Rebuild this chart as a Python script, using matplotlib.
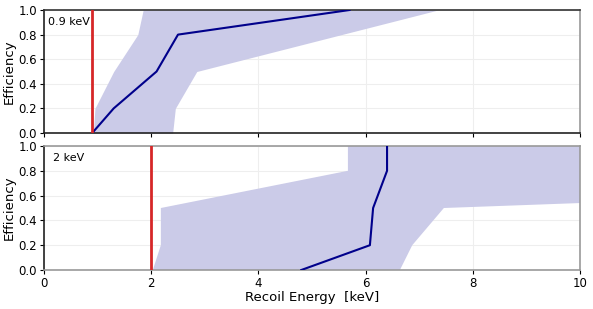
import numpy as np
import matplotlib
matplotlib.use('Agg')
import matplotlib.pyplot as plt

# efficiency levels (y) and recoil energies (x)
eff = [0.0, 0.2, 0.5, 0.8, 1.0]

# 0.9 keV threshold
thr_a = 0.9
med_a = [0.9, 1.3, 2.1, 2.5, 5.7]
lo_a = [0.92, 0.95, 1.3, 1.75, 1.85]
hi_a = [2.4, 2.45, 2.85, 5.55, 7.35]

# 2 keV threshold
thr_b = 2.0
med_b = [4.8, 6.08, 6.14, 6.4, 6.4]
lo_b = [2.03, 2.18, 2.18, 5.67, 5.67]
hi_b = [6.64, 6.87, 7.46, 26.5, 30.0]

labels = ['0.9 keV', '2 keV']

fig = plt.figure(figsize=(5.93, 3.09), dpi=100)
ax1 = fig.add_axes([0.0742, 0.5696, 0.9039, 0.398])
ax2 = fig.add_axes([0.0742, 0.1262, 0.9039, 0.4013])

sets = [(ax1, thr_a, med_a, lo_a, hi_a, labels[0], 0.008),
        (ax2, thr_b, med_b, lo_b, hi_b, labels[1], 0.016)]

for ax, thr, med, lo, hi, lab, tx in sets:
    ax.fill_betweenx(eff, lo, hi, color='#cbcbe8', lw=0, zorder=1)
    ax.plot(med, eff, color='#00008b', lw=1.5, zorder=3)
    ax.axvline(thr, color='#d62728', lw=2, zorder=4)
    ax.set_xlim(0, 10)
    ax.set_ylim(0, 1)
    ax.set_yticks([0, 0.2, 0.4, 0.6, 0.8, 1.0])
    ax.set_xticks([0, 2, 4, 6, 8, 10])
    ax.grid(True, color='#eeeeee', lw=0.8, zorder=0)
    ax.set_axisbelow(True)
    ax.set_ylabel('Efficiency', fontsize=9.5, labelpad=2)
    ax.tick_params(labelsize=8.5, length=3, width=0.8, pad=2)
    ax.text(tx, 0.9, lab, transform=ax.transAxes, fontsize=8, va='center')
    for s in ax.spines.values():
        s.set_linewidth(1.2)

ax1.tick_params(labelbottom=False)
ax1.spines['left'].set_color('#222222')
ax1.spines['bottom'].set_color('#222222')
ax1.spines['top'].set_color('#333333')
ax1.spines['right'].set_color('#999999')
ax2.spines['left'].set_color('#222222')
ax2.spines['bottom'].set_color('#999999')
ax2.spines['top'].set_color('#999999')
ax2.spines['right'].set_color('#999999')
ax2.set_xlabel('Recoil Energy  [keV]', fontsize=9.5, labelpad=1)

fig.savefig('out.png', dpi=100)
